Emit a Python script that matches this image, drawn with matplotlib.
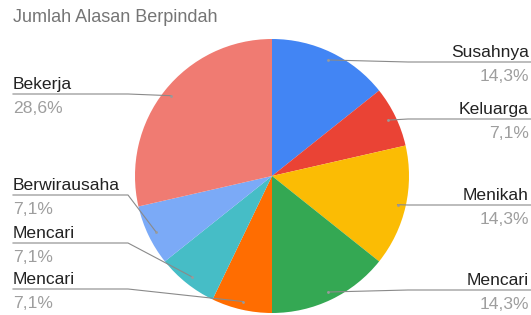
import matplotlib
matplotlib.use("Agg")
import matplotlib.pyplot as plt
import numpy as np

plt.rcParams['font.family'] = ['Liberation Sans', 'DejaVu Sans']

# data
title = "Jumlah Alasan Berpindah"
labels = ["Susahnya", "Keluarga", "Menikah", "Mencari", "Mencari", "Mencari",
          "Berwirausaha", "Bekerja"]
counts = [2, 1, 2, 2, 1, 1, 1, 4]
colors = ["#4285F4", "#EA4335", "#FBBC04", "#34A853", "#FF6D01", "#46BDC6",
          "#7BAAF7", "#F07B72"]

# layout (pixel coords, y down)
W, H = 531, 315
cx, cy, r = 272, 176, 137
label_y = [62, 119, 205, 290, 289, 243, 195, 94]

fig = plt.figure(figsize=(W / 100, H / 100), dpi=100)
ax = fig.add_axes([0, 0, 1, 1])

wedges, _ = ax.pie(counts, colors=colors, center=(cx, cy), radius=r,
                   startangle=-90, counterclock=True,
                   wedgeprops=dict(linewidth=0))
ax.set_xlim(0, W)
ax.set_ylim(H, 0)
ax.set_aspect('equal')
ax.axis('off')

total = sum(counts)
for w, name, n, ly in zip(wedges, labels, counts, label_y):
    mid = np.deg2rad((w.theta1 + w.theta2) / 2)
    dx = cx + 0.94 * r * np.cos(mid)
    dy = cy + 0.94 * r * np.sin(mid)
    pct = f"{100 * n / total:.1f}%".replace(".", ",")
    if dx > cx:
        ax.plot([dx, 408, W], [dy, ly, ly], color="#8a8a8a", lw=0.8)
        tx, ha = W - 2, 'right'
    else:
        ax.plot([dx, 128, 13], [dy, ly, ly], color="#8a8a8a", lw=0.8)
        tx, ha = 13, 'left'
    ax.plot(dx, dy, 'o', ms=2, color="#9a9a9a", mec='none')
    ax.text(tx, ly - 5, name, ha=ha, va='baseline', fontsize=12.6, color="#222222")
    ax.text(tx, ly + 7, pct, ha=ha, va='top', fontsize=12.6, color="#9e9e9e")

ax.text(13, 22, title, ha='left', va='baseline', fontsize=13, color="#757575")

fig.savefig("out.png", dpi=100)
